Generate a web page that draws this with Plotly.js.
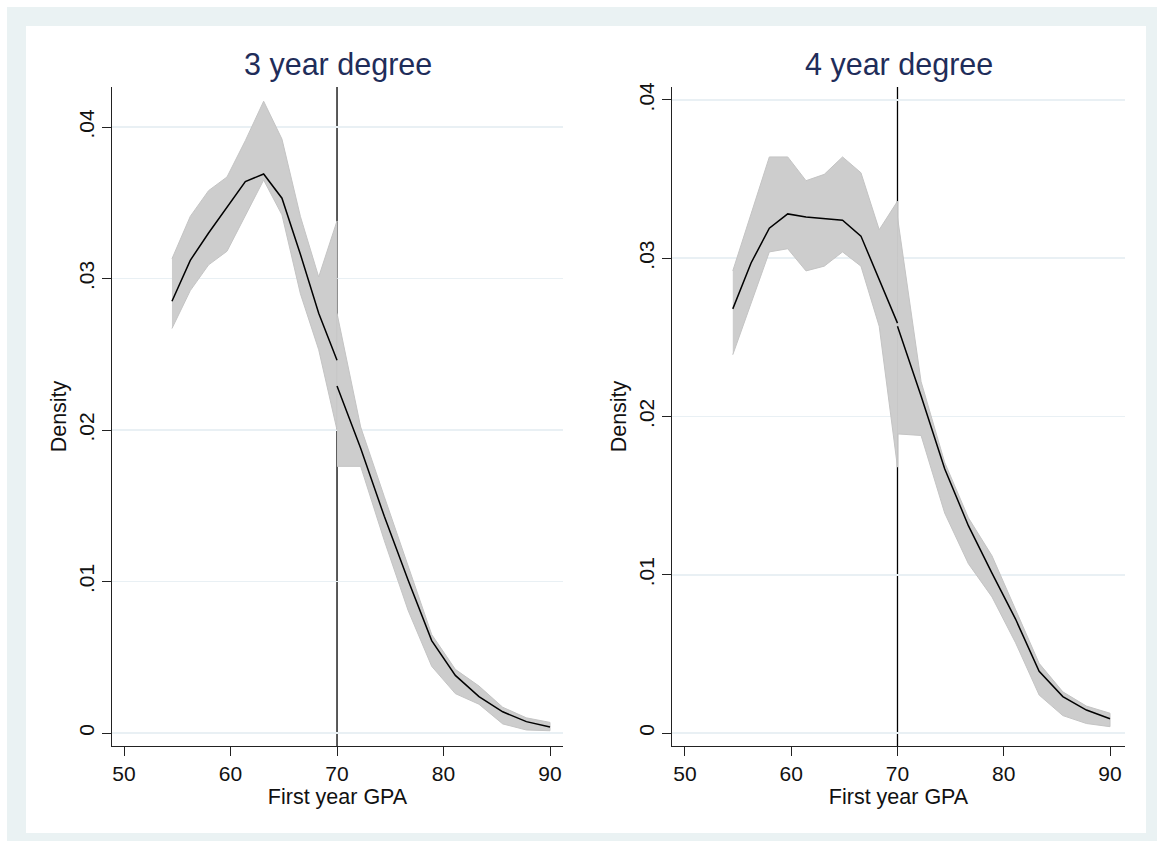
<!DOCTYPE html>
<html><head><meta charset="utf-8">
<script src="https://cdn.plot.ly/plotly-3.0.1.min.js"></script>
<style>
html,body{margin:0;padding:0;background:#fff;width:1157px;height:841px;overflow:hidden;}
#frame{position:absolute;left:7px;top:7px;width:1150px;height:834px;background:#eaf2f3;}
#plot{position:absolute;left:26px;top:26px;width:1120px;height:807px;background:#fff;}
</style></head><body><div id="frame"></div><div id="plot"></div>
<script>
// ---------- data ----------
const panelTitles = ['3 year degree', '4 year degree'];
const xLabel = 'First year GPA';
const yLabel = 'Density';
const cutoff = 70;
const xTickVals = [50, 60, 70, 80, 90];
const yTickVals = [0, 0.01, 0.02, 0.03, 0.04];
const yTickText = ['0', '.01', '.02', '.03', '.04'];

// GPA bin midpoints below and above the cutoff
const xBelow = [54.5, 56.22, 57.94, 59.67, 61.39, 63.11, 64.83, 66.56, 68.28, 70];
const xAbove = [70, 72.22, 74.44, 76.67, 78.89, 81.11, 83.33, 85.56, 87.78, 90];

// 3 year degree
const dens3Below = [0.0285, 0.0312, 0.0330, 0.0347, 0.0364, 0.0369, 0.0353, 0.0316, 0.0277, 0.0246];
const hi3Below   = [0.0313, 0.0341, 0.0358, 0.0367, 0.0391, 0.0417, 0.0392, 0.0341, 0.0301, 0.0338];
const lo3Below   = [0.0267, 0.0292, 0.0309, 0.0318, 0.0341, 0.0365, 0.0342, 0.0290, 0.0253, 0.0200];
const dens3Above = [0.0229, 0.0188, 0.0143, 0.0101, 0.0061, 0.0038, 0.0024, 0.0014, 0.00075, 0.0004];
const hi3Above   = [0.0277, 0.0202, 0.0156, 0.0110, 0.0065, 0.0042, 0.0031, 0.0017, 0.0010, 0.0007];
const lo3Above   = [0.0176, 0.0176, 0.0127, 0.0081, 0.0044, 0.0026, 0.0019, 0.0006, 0.0002, 0.00015];

// 4 year degree
const dens4Below = [0.0268, 0.0297, 0.0319, 0.0328, 0.0326, 0.0325, 0.0324, 0.0314, 0.0287, 0.0259];
const hi4Below   = [0.0292, 0.0328, 0.0364, 0.0364, 0.0349, 0.0353, 0.0364, 0.0354, 0.0318, 0.0336];
const lo4Below   = [0.0239, 0.0272, 0.0304, 0.0306, 0.0292, 0.0295, 0.0304, 0.0295, 0.0257, 0.0168];
const dens4Above = [0.0257, 0.0213, 0.0167, 0.0131, 0.0101, 0.0072, 0.0039, 0.0023, 0.00145, 0.0009];
const hi4Above   = [0.0326, 0.0222, 0.0171, 0.0136, 0.0112, 0.0078, 0.0044, 0.0026, 0.0017, 0.00125];
const lo4Above   = [0.0189, 0.0188, 0.0139, 0.0107, 0.0086, 0.0057, 0.0024, 0.0011, 0.0006, 0.0004];

// ---------- drawing ----------
const FONT = 'Liberation Sans, Arial, Helvetica, sans-serif';
const bandFill = 'rgb(205,205,205)';
const bandEdge = 'rgb(196,196,196)';

function band(xs, hi, lo, xa, ya) {
  return {
    type: 'scatter', mode: 'lines', xaxis: xa, yaxis: ya,
    x: xs.concat(xs.slice().reverse()),
    y: hi.concat(lo.slice().reverse()),
    fill: 'toself', fillcolor: bandFill,
    line: {color: bandEdge, width: 1},
    hoverinfo: 'skip', showlegend: false
  };
}
function curve(xs, ys, xa, ya) {
  return {
    type: 'scatter', mode: 'lines', xaxis: xa, yaxis: ya,
    x: xs, y: ys, line: {color: 'black', width: 1.5},
    showlegend: false
  };
}

const traces = [
  band(xBelow, hi3Below, lo3Below, 'x', 'y'),
  band(xAbove, hi3Above, lo3Above, 'x', 'y'),
  curve(xBelow, dens3Below, 'x', 'y'),
  curve(xAbove, dens3Above, 'x', 'y'),
  band(xBelow, hi4Below, lo4Below, 'x2', 'y2'),
  band(xAbove, hi4Above, lo4Above, 'x2', 'y2'),
  curve(xBelow, dens4Below, 'x2', 'y2'),
  curve(xAbove, dens4Above, 'x2', 'y2')
];

const W = 1120, H = 807;
const yDom = [(H - 720) / H, (H - 61) / H];

function xAxis(domain, range, anchor) {
  return {
    domain: domain, range: range, anchor: anchor,
    tickmode: 'array', tickvals: xTickVals, ticktext: xTickVals.map(String),
    ticks: 'outside', ticklen: 9, tickwidth: 1, tickcolor: '#222',
    showline: true, linecolor: '#222', linewidth: 1,
    showgrid: false, zeroline: false,
    tickfont: {family: FONT, size: 21, color: '#111'},
    title: {text: xLabel, font: {family: FONT, size: 21.5, color: '#111'}, standoff: 3}
  };
}
function yAxis(range, anchor) {
  return {
    domain: yDom, range: range, anchor: anchor,
    tickmode: 'array', tickvals: yTickVals, ticktext: yTickText,
    tickangle: -90,
    ticks: 'outside', ticklen: 9, tickwidth: 1, tickcolor: '#222',
    showline: true, linecolor: '#222', linewidth: 1,
    showgrid: true, gridcolor: 'rgb(233,240,244)', gridwidth: 1.5,
    zeroline: false,
    tickfont: {family: FONT, size: 21, color: '#111'},
    title: {text: yLabel, font: {family: FONT, size: 21.5, color: '#111'}, standoff: 2}
  };
}

const layout = {
  width: W, height: H, autosize: false,
  margin: {l: 0, r: 0, t: 0, b: 0},
  paper_bgcolor: 'white', plot_bgcolor: 'white',
  showlegend: false,
  xaxis: xAxis([86 / W, 537 / W], [48.87, 91.22], 'y'),
  yaxis: yAxis([-0.000858, 0.04264], 'x'),
  xaxis2: xAxis([646 / W, 1099 / W], [48.78, 91.41], 'y2'),
  yaxis2: yAxis([-0.000821, 0.04082], 'x2'),
  shapes: [
    {type: 'line', xref: 'x', yref: 'y domain', x0: cutoff, x1: cutoff, y0: 0, y1: 1,
     line: {color: 'black', width: 1.3}, layer: 'below'},
    {type: 'line', xref: 'x2', yref: 'y2 domain', x0: cutoff, x1: cutoff, y0: 0, y1: 1,
     line: {color: 'black', width: 1.3}, layer: 'below'}
  ],
  annotations: [
    {text: panelTitles[0], xref: 'x domain', yref: 'paper', x: 0.5, y: (H - 38) / H,
     xanchor: 'center', yanchor: 'middle', showarrow: false,
     font: {family: FONT, size: 30.5, color: '#1f2d5a'}},
    {text: panelTitles[1], xref: 'x2 domain', yref: 'paper', x: 0.5, y: (H - 38) / H,
     xanchor: 'center', yanchor: 'middle', showarrow: false,
     font: {family: FONT, size: 30.5, color: '#1f2d5a'}}
  ]
};

Plotly.newPlot('plot', traces, layout, {displayModeBar: false, staticPlot: true});
</script></body></html>
